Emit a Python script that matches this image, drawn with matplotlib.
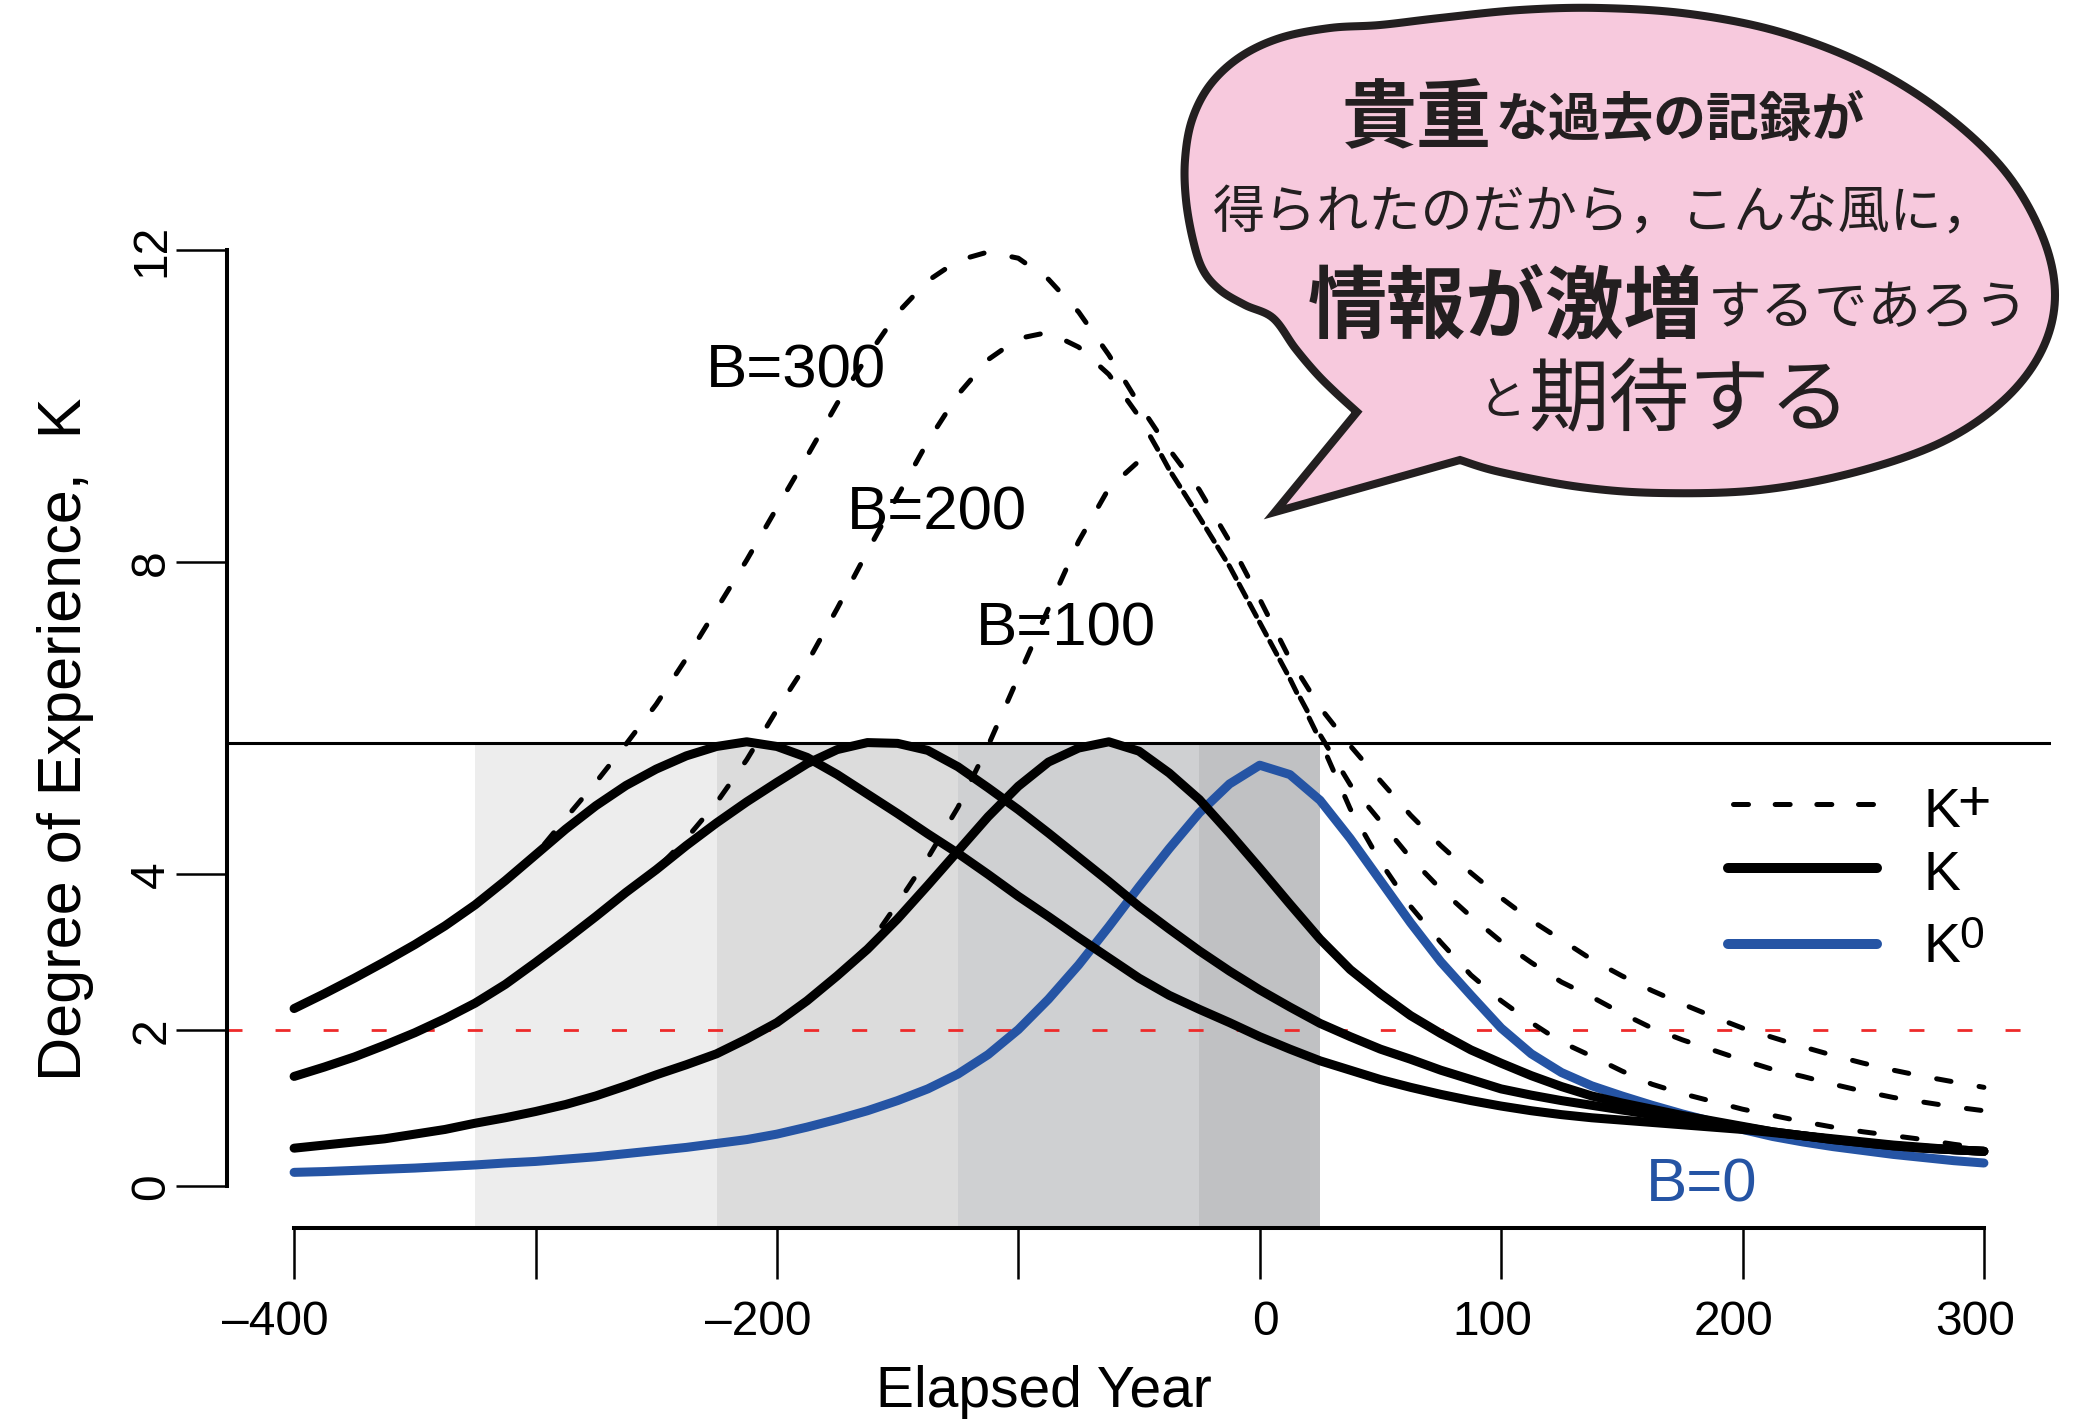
import numpy as np
import matplotlib
matplotlib.use('Agg')
import matplotlib.pyplot as plt
from matplotlib.path import Path
from matplotlib.patches import PathPatch

plt.rcParams['font.family'] = ['Liberation Sans', 'DejaVu Sans']
plt.rcParams['lines.scale_dashes'] = False

# ---------------- data ----------------
# common x grid (Elapsed Year), every 12.5 years
x_grid = np.arange(-400, 300.1, 12.5)

k0 = [0.18, 0.19, 0.205, 0.22, 0.235, 0.255, 0.275, 0.30, 0.32, 0.35, 0.38, 0.42, 0.46, 0.50, 0.55, 0.60,
      0.67, 0.76, 0.86, 0.97, 1.10, 1.25, 1.44, 1.69, 2.01, 2.40, 2.84, 3.33, 3.84, 4.33, 4.79, 5.16, 5.40,
      5.28, 4.95, 4.46, 3.92, 3.38, 2.88, 2.45, 2.03, 1.70, 1.46, 1.29, 1.16, 1.04, 0.93, 0.83, 0.73, 0.64,
      0.57, 0.51, 0.46, 0.41, 0.37, 0.33, 0.30]

k100 = [0.49, 0.53, 0.57, 0.61, 0.67, 0.73, 0.81, 0.88, 0.96, 1.05, 1.16, 1.29, 1.43, 1.56, 1.70, 1.89,
        2.10, 2.38, 2.70, 3.04, 3.43, 3.86, 4.30, 4.74, 5.13, 5.44, 5.62, 5.70, 5.58, 5.30, 4.96, 4.53,
        4.08, 3.62, 3.17, 2.78, 2.47, 2.19, 1.96, 1.75, 1.58, 1.42, 1.28, 1.16, 1.07, 0.99, 0.91, 0.84,
        0.77, 0.70, 0.65, 0.60, 0.56, 0.52, 0.49, 0.47, 0.45]

k200 = [1.41, 1.53, 1.66, 1.81, 1.97, 2.15, 2.35, 2.59, 2.87, 3.16, 3.46, 3.77, 4.06, 4.37, 4.66, 4.93,
        5.18, 5.42, 5.60, 5.69, 5.68, 5.59, 5.38, 5.11, 4.83, 4.53, 4.22, 3.91, 3.59, 3.30, 3.02, 2.76,
        2.52, 2.30, 2.09, 1.92, 1.76, 1.63, 1.49, 1.37, 1.25, 1.17, 1.10, 1.04, 0.98, 0.92, 0.87, 0.81,
        0.76, 0.70, 0.65, 0.60, 0.56, 0.52, 0.49, 0.47, 0.45]

k300 = [2.28, 2.47, 2.67, 2.88, 3.10, 3.34, 3.61, 3.92, 4.25, 4.58, 4.88, 5.14, 5.35, 5.52, 5.64, 5.70,
        5.64, 5.50, 5.28, 5.03, 4.78, 4.52, 4.27, 4.00, 3.72, 3.46, 3.19, 2.93, 2.67, 2.45, 2.27, 2.10,
        1.92, 1.76, 1.61, 1.49, 1.37, 1.27, 1.18, 1.10, 1.03, 0.97, 0.92, 0.88, 0.85, 0.82, 0.79, 0.76,
        0.73, 0.69, 0.65, 0.61, 0.57, 0.53, 0.50, 0.47, 0.45]

kp300 = [2.28, 2.47, 2.67, 2.88, 3.10, 3.34, 3.61, 3.92, 4.25, 4.72, 5.18, 5.67, 6.18, 6.77, 7.40, 8.03,
         8.70, 9.36, 10.04, 10.64, 11.20, 11.61, 11.87, 11.98, 11.90, 11.63, 11.21, 10.66, 10.03, 9.45,
         8.93, 8.27, 7.53, 6.76, 6.14, 5.65, 5.20, 4.76, 4.37, 4.02, 3.70, 3.41, 3.16, 2.91, 2.70, 2.51,
         2.34, 2.18, 2.03, 1.91, 1.79, 1.68, 1.58, 1.49, 1.41, 1.34, 1.27]

kp200 = [1.41, 1.53, 1.66, 1.81, 1.97, 2.15, 2.35, 2.59, 2.87, 3.16, 3.46, 3.77, 4.06, 4.46, 4.92, 5.47,
         6.11, 6.71, 7.41, 8.14, 8.85, 9.55, 10.15, 10.60, 10.87, 10.95, 10.76, 10.41, 9.87, 9.19, 8.58,
         7.95, 7.23, 6.51, 5.79, 5.15, 4.68, 4.21, 3.81, 3.46, 3.14, 2.87, 2.62, 2.43, 2.22, 2.03, 1.88,
         1.75, 1.62, 1.50, 1.41, 1.31, 1.22, 1.14, 1.08, 1.02, 0.97]

# B=100 K+ has a kink where it meets the B=200 K+ curve (x = -41)
x_kp100 = list(x_grid[:29]) + [-41.0] + list(x_grid[29:])
kp100 = [0.49, 0.53, 0.57, 0.61, 0.67, 0.73, 0.81, 0.88, 0.96, 1.05, 1.16, 1.29, 1.43, 1.56, 1.70, 1.89,
         2.10, 2.38, 2.70, 3.07, 3.63, 4.21, 4.86, 5.65, 6.53, 7.41, 8.27, 8.95, 9.30, 9.39, 9.19, 8.58,
         7.95, 7.23, 6.51, 5.72, 4.84, 4.16, 3.59, 3.13, 2.71, 2.38, 2.10, 1.85, 1.67, 1.48, 1.31, 1.19,
         1.09, 0.99, 0.91, 0.83, 0.76, 0.70, 0.65, 0.60, 0.54, 0.49]

shade_edges = [-325, -225, -125, -25, 25]
shade_colors = ['#EDEDED', '#DCDCDC', '#CFD0D2', '#C0C1C3']
k_level = 5.69
k_red = 2.0

x_ticks = [-400, -300, -200, -100, 0, 100, 200, 300]
x_ticklabels = ['\u2013400', '', '\u2013200', '', '0', '100', '200', '300']
y_ticks = [0, 2, 4, 8, 12]
y_ticklabels = ['0', '2', '4', '8', '12']

b_labels = ['B=300', 'B=200', 'B=100']
b_label_x = [-192.0, -133.5, -80.3]
b_label_y = [10.24, 8.42, 6.94]
b0_label = ('B=0', 183.2, -0.2)

bubble_lines = [
    [('貴重', 54, 'bold'), ('な過去の記録が', 38, 'bold')],
    [('得られたのだから，こんな風に，', 37.5, 'normal')],
    [('情報が激増', 57, 'bold'), ('するであろう', 38.5, 'normal')],
    [('と', 34, 'normal'), ('期待する', 58, 'normal')],
]

# ---------------- figure ----------------
W, H = 2087, 1419
fig = plt.figure(figsize=(W / 100, H / 100), dpi=100)


def fx(px):
    return px / W


def fy(py):
    return 1 - py / H


xlo, xhi = -428.0, 328.0
px_per_year = 2.414
ax_left = 1259.7 + xlo * px_per_year
ax_right = 1259.7 + xhi * px_per_year
ylo, yhi = -0.535, 12.48
ax_bot = 1186.4 - ylo * 78.0
ax_top = 1186.4 - yhi * 78.0
ax = fig.add_axes([fx(ax_left), fy(ax_bot), (ax_right - ax_left) / W, (ax_bot - ax_top) / H])
ax.set_xlim(xlo, xhi)
ax.set_ylim(ylo, yhi)
ax.patch.set_alpha(0)

for i, c in enumerate(shade_colors):
    ax.fill_between([shade_edges[i], shade_edges[i + 1]], ylo, k_level, color=c, lw=0, zorder=1)

ax.axhline(k_level, color='black', lw=2.2, zorder=2)
ax.axhline(k_red, color='#EE2A2A', lw=2.0, dashes=(10.8, 23.8), zorder=2)

blue = '#2554A4'
lw_solid = 6.5
lw_dash = 3.6
dash_pat = (10.5, 20.5)

ax.plot(x_grid, k0, color=blue, lw=lw_solid, solid_capstyle='round', solid_joinstyle='round', zorder=3)
for ys in [k100, k200, k300]:
    ax.plot(x_grid, ys, color='black', lw=lw_solid, solid_capstyle='round', solid_joinstyle='round', zorder=4)
for xs, ys in [(x_kp100, kp100), (x_grid, kp200), (x_grid, kp300)]:
    ax.plot(xs, ys, color='black', lw=lw_dash, dashes=dash_pat, dash_capstyle='round',
            dash_joinstyle='round', zorder=5)

for t, xx, yy in zip(b_labels, b_label_x, b_label_y):
    ax.text(xx, yy, t, ha='center', va='baseline', fontsize=44.5, color='black', zorder=6)
ax.text(b0_label[1], b0_label[2], b0_label[0], ha='center', va='baseline', fontsize=44.5, color=blue, zorder=6)

for s in ['top', 'right']:
    ax.spines[s].set_visible(False)
ax.spines['left'].set_bounds(0, 12)
ax.spines['bottom'].set_bounds(-400, 300)
for s in ['left', 'bottom']:
    ax.spines[s].set_linewidth(2.9)
    ax.spines[s].set_zorder(7)

ax.set_xticks(x_ticks)
ax.set_yticks(y_ticks)
ax.set_yticklabels(y_ticklabels)
ax.tick_params(axis='both', direction='out', length=36.7, width=1.8, labelsize=34.5)
ax.tick_params(axis='x', labelbottom=False)
ax.tick_params(axis='y', pad=1)
for lab in ax.get_yticklabels():
    lab.set_rotation(90)
    lab.set_va('center')

# x tick labels (as in the original, slightly off-centre from their ticks)
label_shift_px = {'\u2013400': -19, '\u2013200': -19, '0': 6, '100': -9, '200': -9, '300': -9}
for xt, lab in zip(x_ticks, x_ticklabels):
    if not lab:
        continue
    ax.annotate(lab, xy=(xt, 0), xycoords=('data', 'axes fraction'),
                xytext=(label_shift_px[lab] * 0.72, -51.5), textcoords='offset points',
                ha='center', va='top', fontsize=34.5, annotation_clip=False)

fig.text(fx(1044), fy(1407), 'Elapsed Year', ha='center', va='baseline', fontsize=41)
fig.text(fx(66), fy(739), 'Degree of Experience,  K', rotation=90, ha='center', va='center', fontsize=44)

# ---------------- overlay (legend + speech bubble) in pixel coords ----------------
ov = fig.add_axes([0, 0, 1, 1], zorder=10)
ov.set_xlim(0, W)
ov.set_ylim(H, 0)
ov.axis('off')
ov.patch.set_alpha(0)

# legend
ov.plot([1732.5, 1872.5], [804, 804], color='black', lw=lw_dash, dashes=(10.8, 19.2), dash_capstyle='round')
ov.plot([1728, 1877], [868, 868], color='black', lw=7.2, solid_capstyle='round')
ov.plot([1728, 1877], [944, 944], color=blue, lw=7.2, solid_capstyle='round')
ov.text(1923, 827, 'K', fontsize=40, va='baseline', ha='left')
ov.text(1957, 820, '+', fontsize=41, va='baseline', ha='left')
ov.text(1923, 890, 'K', fontsize=40, va='baseline', ha='left')
ov.text(1923, 962, 'K', fontsize=40, va='baseline', ha='left')
ov.text(1959, 948, '0', fontsize=32, va='baseline', ha='left')


# speech bubble outline (smoothed through a few guide points)
def catmull(pts, n=12):
    pts = np.asarray(pts, float)
    P = np.vstack([pts[0], pts, pts[-1]])
    out = []
    for i in range(1, len(P) - 2):
        p0, p1, p2, p3 = P[i - 1], P[i], P[i + 1], P[i + 2]
        for t in np.linspace(0, 1, n, endpoint=False):
            t2, t3 = t * t, t * t * t
            out.append(0.5 * ((2 * p1) + (-p0 + p2) * t + (2 * p0 - 5 * p1 + 4 * p2 - p3) * t2 +
                              (-p0 + 3 * p1 - 3 * p2 + p3) * t3))
    out.append(P[-2])
    return np.array(out)


tip = (1275, 512)
body = [(1357, 412), (1335, 392), (1316, 373), (1295, 348), (1273, 318), (1245, 305), (1220, 290),
        (1203, 270), (1193, 240), (1186, 200), (1185, 160), (1192, 120), (1210, 85), (1240, 57), (1280, 38),
        (1330, 28), (1380, 25), (1440, 18), (1520, 10), (1600, 8), (1690, 14), (1780, 32), (1866, 65),
        (1942, 112), (2004, 170), (2042, 235), (2055, 295), (2042, 350), (2004, 400), (1942, 442),
        (1856, 472), (1760, 490), (1660, 493), (1580, 487), (1500, 472), (1460, 460)]
curve = catmull(body)
verts = np.vstack([[tip], curve, [tip]])
codes = [Path.MOVETO] + [Path.LINETO] * (len(verts) - 2) + [Path.CLOSEPOLY]
bubble = PathPatch(Path(verts, codes), facecolor='#F7C9DD', edgecolor='#231F20', lw=5.8,
                   joinstyle='miter', zorder=1)
ov.add_patch(bubble)

jp = ['Noto Sans CJK JP', 'DejaVu Sans']
line_pos = [(1342, 120), (1213, 214), (1308, 308), (1478, 402)]
for (x0, yc), runs in zip(line_pos, bubble_lines):
    xcur = x0
    for txt, size, wt in runs:
        ov.text(xcur, yc, txt, fontsize=size, fontweight=wt, family=jp, color='#231F20',
                ha='left', va='center', zorder=3)
        xcur += len(txt) * size * 100 / 72 + 4

fig.savefig('out.png', dpi=100)
